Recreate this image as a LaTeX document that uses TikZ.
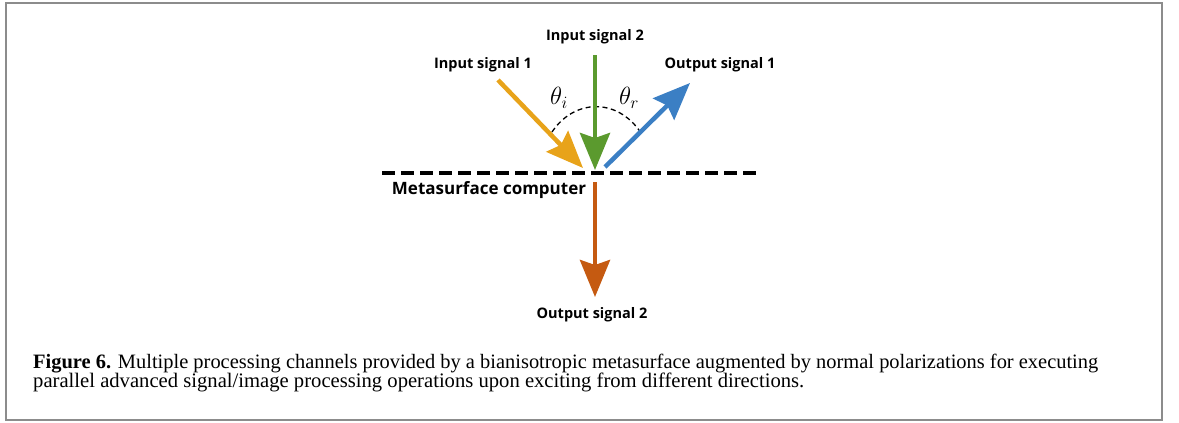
\documentclass[tikz,border=0pt]{standalone}
\usepackage{fontspec}
\setmainfont{Liberation Serif}
\newfontfamily\lblfont{Open Sans}
\usetikzlibrary{arrows.meta}
\definecolor{cyellow}{HTML}{E8A31A}
\definecolor{cgreen}{HTML}{5B9A2E}
\definecolor{cblue}{HTML}{3B7FC4}
\definecolor{corange}{HTML}{C55A11}
\definecolor{cframe}{HTML}{8C8C8C}
\tikzset{
  sig/.style={line width=4.5pt, -{Stealth[length=37pt,width=30pt,inset=5pt]}},
  lbl/.style={font=\lblfont\bfseries\fontsize{14.5}{17}\selectfont, inner sep=0pt},
  mlbl/.style={font=\lblfont\bfseries\fontsize{17}{20}\selectfont, inner sep=0pt},
  ang/.style={font=\fontsize{27}{30}\selectfont, inner sep=0pt},
  surf/.style={line width=4pt, dash pattern=on 13pt off 6pt},
  arcst/.style={line width=1.3pt, dash pattern=on 5pt off 3.5pt},
  capt/.style={font=\fontsize{16}{19}\selectfont, inner sep=0pt, anchor=base west},
}
\begin{document}
\begin{tikzpicture}[x=1pt,y=-1pt]
\useasboundingbox (0,0) rectangle (1179,423);
\draw[cframe, line width=2pt] (6,3) rectangle (1162,420);

% metasurface
\coordinate (sl) at (382,173);
\coordinate (sr) at (757,173);
\draw[surf] (sl) -- (sr);
\coordinate (o) at (595,173);

% angle arc
\draw[arcst] (552,132) arc[start angle=142, end angle=38, x radius=56, y radius=-66];

% signals
\coordinate (y0) at (498,80);  \coordinate (y1) at (583,168);
\coordinate (g0) at (595,55);  \coordinate (g1) at (595,170);
\coordinate (b0) at (605,167); \coordinate (b1) at (690,83);
\coordinate (r0) at (595,182); \coordinate (r1) at (595,297);
\draw[sig, cyellow] (y0) -- (y1);
\draw[sig, cgreen] (g0) -- (g1);
\draw[sig, cblue] (b0) -- (b1);
\draw[sig, corange] (r0) -- (r1);

% labels
\node[lbl] (in2) at (595,37) {Input signal 2};
\node[lbl] (in1) at (483,65) {Input signal 1};
\node[lbl] (out1) at (720,65) {Output signal 1};
\node[mlbl] (meta) at (489,190) {Metasurface computer};
\node[lbl] (out2) at (592,315) {Output signal 2};
\node[ang] (thi) at (559,98) {$\theta_{i}$};
\node[ang] (thr) at (629,98) {$\theta_{r}$};

% caption
\node[capt] (c1) at (33,368) {\resizebox{1065pt}{!}{\textbf{Figure 6.} Multiple processing channels provided by a bianisotropic metasurface augmented by normal polarizations for executing}};
\node[capt] (c2) at (33,387) {\resizebox{771pt}{!}{parallel advanced signal/image processing operations upon exciting from different directions.}};
\end{tikzpicture}
\end{document}
